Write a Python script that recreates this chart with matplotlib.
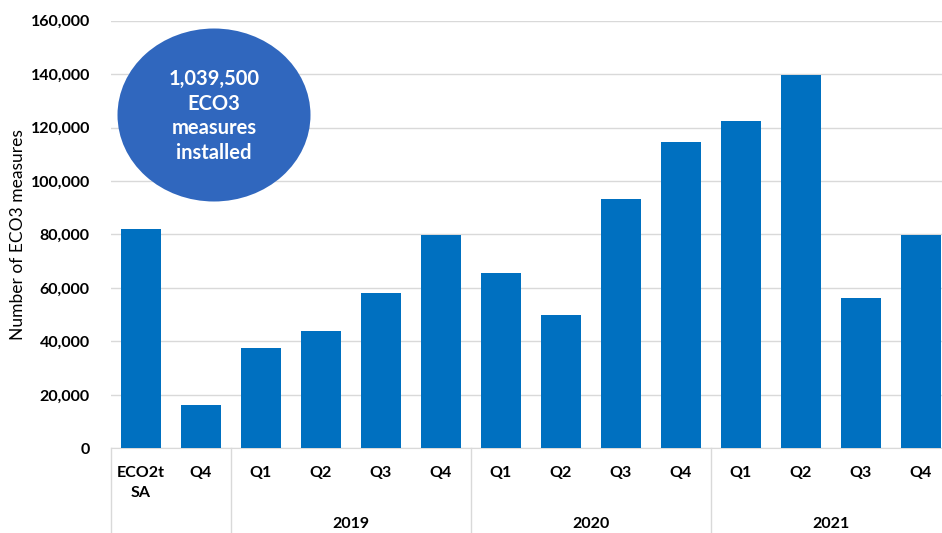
import matplotlib
matplotlib.use("Agg")
import matplotlib.pyplot as plt
from matplotlib.patches import Ellipse
from matplotlib.ticker import FuncFormatter
import matplotlib.transforms as mtransforms

# Chart data
quarters = ["ECO2t\nSA", "Q4",
            "Q1", "Q2", "Q3", "Q4",
            "Q1", "Q2", "Q3", "Q4",
            "Q1", "Q2", "Q3", "Q4"]
measures = [82000, 16200,
            37500, 44000, 58000, 79900,
            65700, 49800, 93100, 114700,
            122300, 139500, 56200, 79900]
years = ["", "2019", "2020", "2021"]
year_sizes = [2, 4, 4, 4]
total_label = "1,039,500\nECO3\nmeasures\ninstalled"

BAR = "#0070C0"
GRID = "#D9D9D9"
TICK_FS = 11.5

plt.rcParams["font.family"] = ["Lato", "DejaVu Sans"]

fig = plt.figure(figsize=(9.42, 5.33), dpi=100)
ax = fig.add_axes([0.1175, 0.1589, 0.8918, 0.8023])

x = list(range(len(quarters)))
ax.bar(x, measures, width=0.667, color=BAR, zorder=3)

ax.set_xlim(-0.5, len(quarters) - 0.5)
ax.set_ylim(0, 160000)
ax.set_yticks(range(0, 160001, 20000))
ax.yaxis.set_major_formatter(FuncFormatter(lambda v, p: f"{int(v):,}"))
ax.grid(axis="y", color=GRID, linewidth=1, zorder=0)
ax.set_axisbelow(True)

for s in ["top", "right", "left"]:
    ax.spines[s].set_visible(False)
ax.spines["bottom"].set_color(GRID)
ax.tick_params(axis="both", length=0)
ax.tick_params(axis="y", pad=15)
ax.tick_params(axis="x", pad=13)

ax.set_xticks(x)
ax.set_xticklabels(quarters, fontweight="bold", fontsize=TICK_FS, linespacing=1.55, va="top")
for lab in ax.get_yticklabels():
    lab.set_fontweight("bold")
    lab.set_fontsize(TICK_FS)

ax.set_ylabel("Number of ECO3 measures", fontsize=12.5)
ax.yaxis.set_label_coords(-0.101, 0.5)

# grouped year labels with separator lines below the axis
trans = mtransforms.blended_transform_factory(ax.transData, ax.transAxes)
start = -0.5
ax.plot([start, start], [0, -0.2], color=GRID, lw=1, transform=trans, clip_on=False)
for yr, n in zip(years, year_sizes):
    end = start + n
    ax.plot([end, end], [0, -0.2], color=GRID, lw=1, transform=trans, clip_on=False)
    if yr:
        ax.text((start + end) / 2, -0.176, yr, transform=trans, ha="center", va="center",
                fontweight="bold", fontsize=TICK_FS)
    start = end

# total callout
fig.patches.append(Ellipse((214 / 942, 1 - 115 / 533), 193 / 942, 173 / 533,
                           transform=fig.transFigure, facecolor="#3067BE",
                           edgecolor="none", zorder=5))
fig.text(214 / 942, 1 - 116 / 533, total_label, ha="center", va="center",
         color="white", fontweight="bold", fontsize=14.5, linespacing=1.3, zorder=6)

fig.savefig("out.png", dpi=100)
